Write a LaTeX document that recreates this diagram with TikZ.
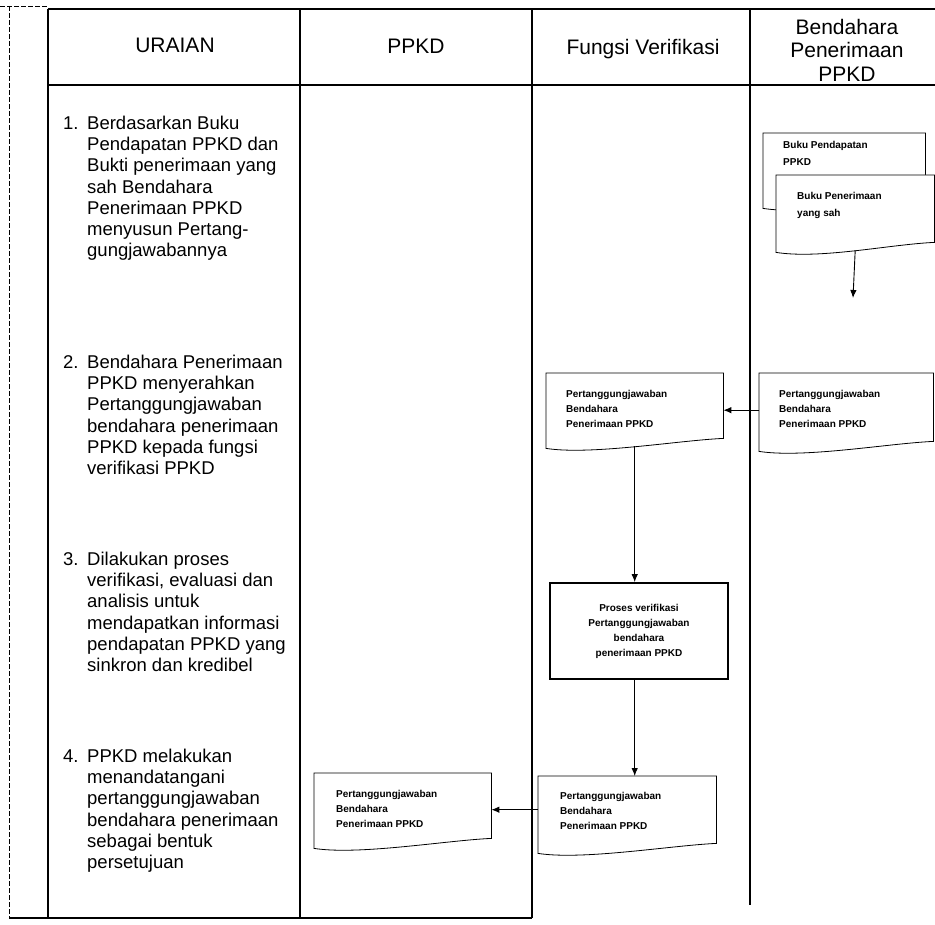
\documentclass[tikz,border=0pt]{standalone}
\usepackage{fontspec}
\setmainfont{Liberation Sans}
\usetikzlibrary{arrows.meta,backgrounds}

% text of a document symbol: width, height, top pad, left pad, text
\newcommand{\doctext}[5]{\parbox[c][#2pt][t]{#1pt}{\raggedright\leftskip=#4pt\relax\vspace*{#3pt}\strut #5}}
% outline of a document symbol round a node
\newcommand{\docline}[2][]{\draw[docedge,#1] (#2.north west) -- (#2.north east) -- ([yshift=10pt]#2.south east)
  .. controls +(-45,2) and +(45,7) .. (#2.south west) -- cycle;}
% numbered step in the uraian column
\newcommand{\langkah}[2]{\makebox[24pt][l]{#1}\parbox[t]{205pt}{\raggedright #2}}

\begin{document}
\begin{tikzpicture}[x=1pt, y=-1pt,
    tabline/.style={line width=1.8pt},
    frameline/.style={line width=0.7pt, dash pattern=on 5pt off 2pt},
    head/.style={font=\fontsize{21}{23.5}\selectfont, align=center},
    uraian/.style={anchor=north west, inner sep=0pt, font=\fontsize{18.5}{21.3}\selectfont},
    docnode/.style={anchor=north west, inner sep=0pt, font=\fontsize{10}{15}\selectfont\bfseries},
    bukunode/.style={docnode, font=\fontsize{10}{17}\selectfont\bfseries},
    docedge/.style={line width=0.8pt},
    prosesbox/.style={draw, line width=1.8pt, minimum width=178pt, minimum height=96pt,
      align=center, font=\fontsize{10}{15}\selectfont\bfseries},
    flow/.style={-{Latex[length=8pt,width=6.5pt]}, line width=0.9pt}]
  \useasboundingbox (0,0) rectangle (935,925);

  % table
  \draw[frameline] (0,6) -- (48,6);
  \draw[frameline] (9,6) -- (9,918);
  \draw[tabline] (9,918) -- (532,918);
  \draw[tabline] (48,9) -- (935,9);
  \draw[tabline] (48,85) -- (935,85);
  \draw[tabline] (48,9) -- (48,918);
  \draw[tabline] (300,9) -- (300,918);
  \draw[tabline] (532,9) -- (532,918);
  \draw[tabline] (750,9) -- (750,905);

  % headers
  \node[head] (h-uraian) at (175,45) {URAIAN};
  \node[head] (h-ppkd) at (416,46) {PPKD};
  \node[head] (h-fungsi) at (643,49) {Fungsi Verifikasi};
  \node[head] (h-bendahara) at (847,50) {Bendahara\\Penerimaan\\PPKD};

  % uraian
  \node[uraian] (u-1) at (63,115.5) {\langkah{1.}{Berdasarkan Buku\\Pendapatan PPKD dan\\
    Bukti penerimaan yang\\sah Bendahara\\Penerimaan PPKD\\menyusun Pertang-\\gungjawabannya}};
  \node[uraian] (u-2) at (63,354.5) {\langkah{2.}{Bendahara Penerimaan\\PPKD menyerahkan\\
    Pertanggungjawaban\\bendahara penerimaan\\PPKD kepada fungsi\\verifikasi PPKD}};
  \node[uraian] (u-3) at (63,551.5) {\langkah{3.}{Dilakukan proses\\verifikasi, evaluasi dan\\
    analisis untuk\\mendapatkan informasi\\pendapatan PPKD yang\\sinkron dan kredibel}};
  \node[uraian] (u-4) at (63,748.5) {\langkah{4.}{PPKD melakukan\\menandatangani\\
    pertanggungjawaban\\bendahara penerimaan\\sebagai bentuk\\persetujuan}};

  % documents
  \node[bukunode] (bk-pendapatan) at (763,133) {\doctext{162}{75}{3.5}{20}{Buku Pendapatan\\PPKD}};
  \node[bukunode] (bk-penerimaan) at (776,175) {\doctext{158}{77}{12}{21}{Buku Penerimaan\\yang sah}};
  \coordinate (bk-end) at (853,298);
  \node[docnode] (pj-bendahara) at (759,373) {\doctext{174}{78}{13.5}{20}{Pertanggungjawaban\\Bendahara\\Penerimaan PPKD}};
  \node[docnode] (pj-fungsi) at (546,373) {\doctext{177}{75}{13.5}{20}{Pertanggungjawaban\\Bendahara\\Penerimaan PPKD}};
  \node[prosesbox] (proses) at (639,631) {Proses verifikasi\\Pertanggungjawaban\\bendahara\\penerimaan PPKD};
  \node[docnode] (pj-fungsi2) at (538,776) {\doctext{178}{77}{12.5}{22}{Pertanggungjawaban\\Bendahara\\Penerimaan PPKD}};
  \node[docnode] (pj-ppkd) at (314,773) {\doctext{177}{75}{13.5}{22}{Pertanggungjawaban\\Bendahara\\Penerimaan PPKD}};

  \begin{scope}[on background layer]
    \docline{bk-pendapatan}
    \docline[fill=white]{bk-penerimaan}
  \end{scope}
  \docline{pj-bendahara}
  \docline{pj-fungsi}
  \docline{pj-fungsi2}
  \docline{pj-ppkd}

  \path[flow]
    ([yshift=2pt]bk-penerimaan.south) edge (bk-end)
    ([yshift=2pt]pj-bendahara.west) edge ([yshift=2pt]pj-bendahara.west -| pj-fungsi.east)
    ([yshift=2pt]pj-fungsi.south) edge (pj-fungsi.south |- proses.north)
    (pj-fungsi.south |- proses.south) edge (pj-fungsi.south |- pj-fungsi2.north)
    ([yshift=5pt]pj-fungsi2.west) edge ([yshift=5pt]pj-fungsi2.west -| pj-ppkd.east);
\end{tikzpicture}
\end{document}
